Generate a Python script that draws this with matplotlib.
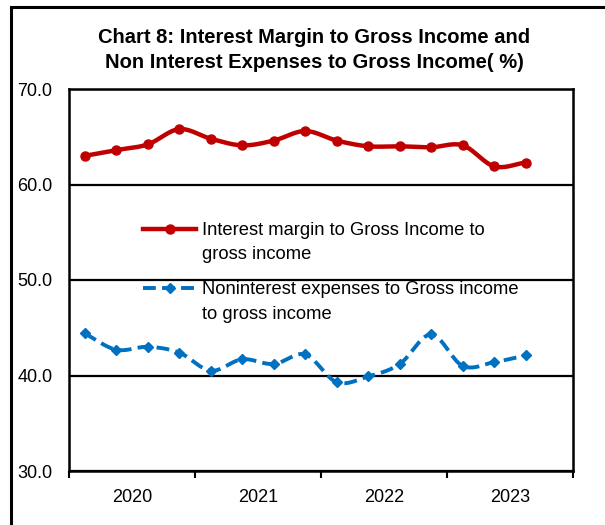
import numpy as np
import matplotlib
matplotlib.use("Agg")
import matplotlib.pyplot as plt
from matplotlib.legend_handler import HandlerLine2D
from matplotlib.patches import Rectangle

plt.rcParams['font.family'] = ['Liberation Sans', 'DejaVu Sans']

# quarterly ratios (%), 2020Q1 .. 2023Q3
margin = [63.0, 63.6, 64.2, 65.8, 64.8, 64.1, 64.6, 65.6, 64.6, 64.0, 64.0, 63.9, 64.1, 61.9, 62.3]
nonint = [44.4, 42.7, 43.0, 42.4, 40.5, 41.7, 41.2, 42.2, 39.3, 39.9, 41.2, 44.3, 41.0, 41.4, 42.1]
years = ['2020', '2021', '2022', '2023']
lab_margin = 'Interest margin to Gross Income to\ngross income'
lab_nonint = 'Noninterest expenses to Gross income\nto gross income'

N_SUB = 20


def smooth(y, n=N_SUB):
    # catmull-rom curve through the points (like excel "smoothed line")
    y = np.asarray(y, float)
    x = np.arange(len(y), dtype=float)
    px = np.concatenate([[2 * x[0] - x[1]], x, [2 * x[-1] - x[-2]]])
    py = np.concatenate([[2 * y[0] - y[1]], y, [2 * y[-1] - y[-2]]])
    t = np.linspace(0, 1, n, endpoint=False)[:, None]
    xs, ys = [], []
    for arr, out in ((px, xs), (py, ys)):
        p0, p1, p2, p3 = arr[:-3], arr[1:-2], arr[2:-1], arr[3:]
        seg = 0.5 * (2 * p1 + (-p0 + p2) * t + (2 * p0 - 5 * p1 + 4 * p2 - p3) * t ** 2
                     + (-p0 + 3 * p1 - 3 * p2 + p3) * t ** 3)
        out.append(np.concatenate([seg.T.ravel(), arr[-2:-1]]))
    return xs[0], ys[0]


class FirstLineHandler(HandlerLine2D):
    # put the legend sample next to the first line of a 2-line label
    shift = 10.0

    def create_artists(self, legend, orig_handle, xdescent, ydescent,
                       width, height, fontsize, trans):
        arts = super().create_artists(legend, orig_handle, xdescent, ydescent,
                                      width, height, fontsize, trans)
        for a in arts:
            a.set_ydata(np.asarray(a.get_ydata()) + self.shift)
            a.set_markevery([1] if len(a.get_xdata()) == 3 else None)
        return arts


fig = plt.figure(figsize=(6.05, 5.25), dpi=100)
ax = fig.add_axes([69 / 605, 1 - 471 / 525, 504 / 605, 382 / 525])

xm, ym = smooth(margin)
xn, yn = smooth(nonint)
l1, = ax.plot(xm, ym, color='#C00000', lw=3.2, marker='o', ms=6.5,
              markevery=N_SUB, label=lab_margin, zorder=4)
l2, = ax.plot(xn, yn, color='#0070C0', lw=2.8, ls=(0, (3.3, 1.6)), marker='D',
              ms=5.5, markevery=N_SUB, label=lab_nonint, zorder=4)

ax.set_ylim(30, 70)
ax.set_yticks([30, 40, 50, 60, 70])
ax.set_yticklabels(['30.0', '40.0', '50.0', '60.0', '70.0'])
ax.set_xlim(-0.5, 15.5)
ax.set_xticks([-0.5, 3.5, 7.5, 11.5, 15.5])
ax.set_xticklabels([])
ax.set_xticks([1.5, 5.5, 9.5, 13.5], minor=True)
ax.set_xticklabels(years, minor=True)
ax.tick_params(axis='x', which='major', direction='out', length=5, width=1.5)
ax.tick_params(axis='x', which='minor', length=0, pad=13, labelsize=13)
ax.tick_params(axis='y', length=0, pad=12, labelsize=13)
ax.grid(axis='y', color='black', lw=1.6)
for s in ax.spines.values():
    s.set_linewidth(1.8)

leg = ax.legend(handles=[l1, l2], loc='upper left', bbox_to_anchor=(0.147, 0.652),
                frameon=False, fontsize=13.2, borderpad=0, borderaxespad=0,
                handlelength=2.9, handletextpad=0.3, labelspacing=0.97,
                handler_map={l1: FirstLineHandler(), l2: FirstLineHandler()})
for t in leg.get_texts():
    t.set_linespacing(1.58)

fig.text(314 / 605, 1 - 50 / 525,
         'Chart 8: Interest Margin to Gross Income and\nNon Interest Expenses to Gross Income( %)',
         ha='center', va='center', fontsize=14.5, fontweight='bold', linespacing=1.4)

fig.add_artist(Rectangle((11 / 605, -0.1), 1.2, 1.1 - 7 / 525, transform=fig.transFigure,
                         fill=False, lw=2.2, ec='black', clip_on=False))

fig.savefig('out.png', dpi=100)
